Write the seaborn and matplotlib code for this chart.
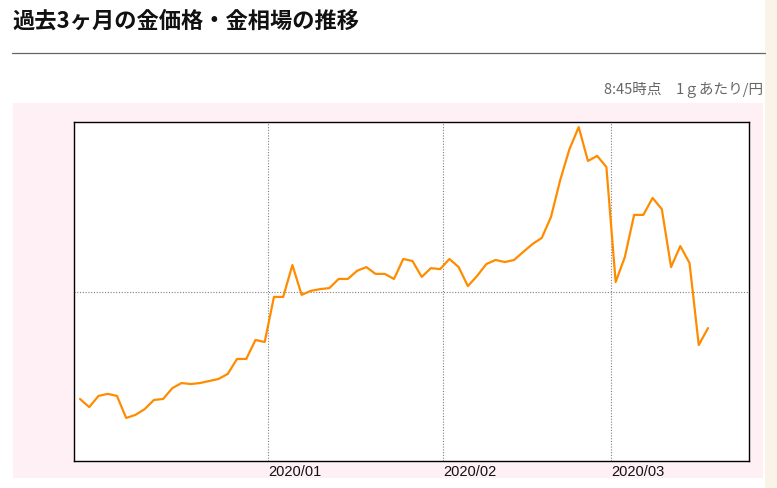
import numpy as np
import pandas as pd
import matplotlib
matplotlib.use("Agg")
import matplotlib.pyplot as plt
import matplotlib.transforms as mtransforms
from matplotlib.patches import Rectangle
import seaborn as sns

# ===== Data (yen per gram, one value per trading day) =====
title_text = "過去3ヶ月の金価格・金相場の推移"
note_text = "8:45時点　1ｇあたり/円"

prices = [
    5583, 5559, 5592, 5598, 5592, 5527, 5536, 5553, 5580, 5583,
    5615, 5630, 5627, 5630, 5636, 5642, 5657, 5701, 5701, 5757,
    5751, 5884, 5884, 5978, 5890, 5902, 5907, 5910, 5937, 5937,
    5961, 5972, 5952, 5952, 5937, 5996, 5990, 5943, 5969, 5966,
    5996, 5972, 5916, 5946, 5981, 5993, 5987, 5993, 6017, 6040,
    6058, 6120, 6229, 6320, 6385, 6285, 6300, 6267, 5928, 6002,
    6126, 6126, 6176, 6143, 5972, 6034, 5984, 5742, 5792,
]
month_labels = ["2020/01", "2020/02", "2020/03"]
month_pos = [20.36, 39.31, 57.5]   # position of month start on the trading-day index

df = pd.DataFrame({"day": np.arange(len(prices)), "price": prices})

# ===== Style =====
sns.set_theme(style="white")
plt.rcParams["font.family"] = ["Noto Sans CJK JP", "DejaVu Sans"]

fig = plt.figure(figsize=(7.77, 4.88), dpi=100)
fig.patch.set_facecolor("white")

# pink panel behind the chart and beige strip on the right
fig.patches.append(Rectangle((13 / 777, 1 - 478 / 488), 750 / 777, 375 / 488,
                             transform=fig.transFigure, facecolor="#fff0f5",
                             edgecolor="none", zorder=-10))
fig.patches.append(Rectangle((765 / 777, 0), 12 / 777, 1,
                             transform=fig.transFigure, facecolor="#faf3e8",
                             edgecolor="none", zorder=-10))

# title and rule
fig.text(12 / 777, 1 - 21 / 488, title_text, fontsize=16, fontweight="bold",
         color="#111111", ha="left", va="center")
fig.add_artist(plt.Line2D([12 / 777, 765 / 777], [1 - 52.5 / 488, 1 - 52.5 / 488],
                          transform=fig.transFigure, color="#666666", lw=0.9))
fig.text(763 / 777, 1 - 89 / 488, note_text, fontsize=10.5, color="#666666",
         ha="right", va="center")

# ===== Chart =====
ax = fig.add_axes([74 / 777, 27 / 488, 675 / 777, 339 / 488])
ax.set_zorder(5)
ax.set_facecolor("white")
sns.lineplot(data=df, x="day", y="price", ax=ax, color="#ff8c00", linewidth=1.6)

ax.set_xlim(-0.65, 72.44)
ax.set_ylim(5400, 6400)
ax.set_xlabel("")
ax.set_ylabel("")

ax.set_xticks(month_pos)
ax.set_xticklabels(month_labels, fontsize=10.5, family=["Liberation Sans", "DejaVu Sans"],
                   color="#111111")
offset = mtransforms.ScaledTranslation(2 / 100, 0, fig.dpi_scale_trans)
for lab in ax.get_xticklabels():
    lab.set_horizontalalignment("left")
    lab.set_transform(lab.get_transform() + offset)
ax.tick_params(axis="x", length=0, pad=3)
ax.set_yticks([5900])
ax.set_yticklabels([])
ax.tick_params(axis="y", length=0)

ax.grid(True, color="#808080", linestyle=(0, (1, 1.5)), linewidth=0.8)
ax.set_axisbelow(True)
for s in ax.spines.values():
    s.set_color("black")
    s.set_linewidth(1.0)

fig.savefig("out.png", dpi=100)
